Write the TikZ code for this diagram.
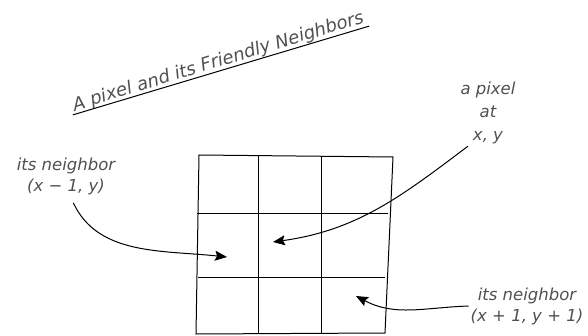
\documentclass[tikz,border=0pt]{standalone}
\usepackage{fontspec}
\setmainfont{DejaVu Sans}
\usetikzlibrary{arrows.meta,calc,positioning}
\definecolor{inkgray}{RGB}{80,80,80}

\begin{document}
\begin{tikzpicture}[x=1pt,y=1pt,
    note/.style={text=inkgray,font=\itshape\fontsize{16.5}{21}\selectfont,align=center,inner sep=1pt},
    pointer/.style={line width=1pt,-{Stealth[length=12pt,width=10pt,inset=2pt]}}]
  \useasboundingbox (0,0) rectangle (588,-336);
  % title, slanted and underlined
  \node[note,font=\itshape\fontsize{18}{22}\selectfont,rotate=17,anchor=south,inner sep=0pt] (title) at (221,-70.5) {A pixel and its Friendly Neighbors};
  \draw[line width=1pt] ([xshift=-3pt]title.south west) -- ([xshift=3pt]title.south east);
  % the 3x3 grid
  \coordinate (tl) at (199,-155);
  \coordinate (tr) at (393,-157);
  \coordinate (br) at (385,-333);
  \coordinate (bl) at (196,-334);
  \draw[line width=1pt] (tl) -- (tr) -- (br) -- (bl) -- cycle;
  \draw[line width=1pt] (197,-214) -- (388,-214);
  \draw[line width=1pt] (198,-277) -- (385,-277);
  \draw[line width=1pt] (258,-155) -- (258,-334);
  \draw[line width=1pt] (321,-156) -- (321,-334);
  % cells the arrows point to
  \coordinate (cellL) at (227,-257);
  \coordinate (cellC) at (273,-242);
  \coordinate (cellR) at (356,-296);
  % labels
  \node[note] (nbl) at (66,-176) {its neighbor\\(x − 1, y)};
  \node[note] (pix) at (488,-113) {a pixel\\[2pt]at\\[2pt]x, y};
  \node[note] (nbr) at (527,-306) {its neighbor\\(x + 1, y + 1)};
  % arrows
  \draw[pointer,shorten <=8pt] ([xshift=4pt]nbl.south) to[out=-65,in=174] (cellL);
  \draw[pointer] ([xshift=-20pt,yshift=-1pt]pix.south) to[out=217,in=8] (cellC);
  \draw[pointer] ([xshift=-1pt]nbr.west) to[out=182,in=-28] (cellR);
\end{tikzpicture}
\end{document}
